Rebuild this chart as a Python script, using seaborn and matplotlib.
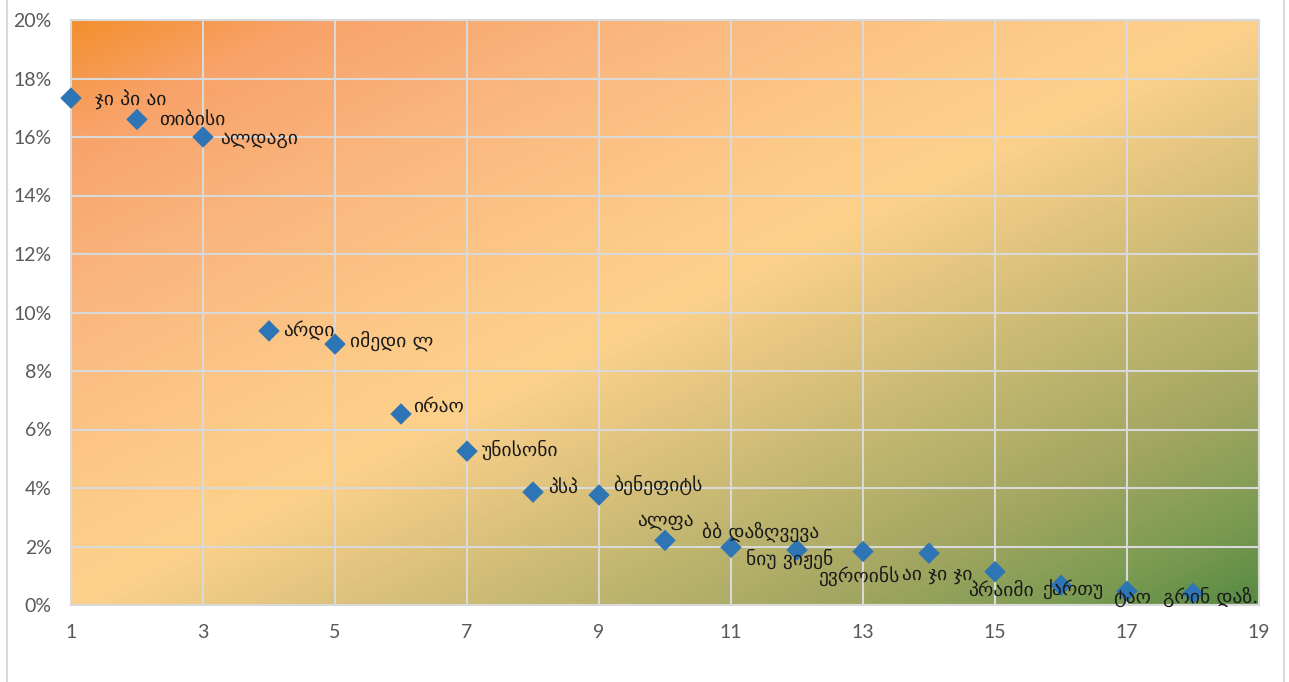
import matplotlib.pyplot as plt
import seaborn as sns
import numpy as np
import pandas as pd
from matplotlib.colors import LinearSegmentedColormap
from matplotlib.lines import Line2D
from matplotlib.ticker import PercentFormatter

# data
rank = list(range(1, 19))
share = [17.33, 16.60, 16.00, 9.37, 8.92, 6.53, 5.26, 3.86, 3.76,
         2.21, 1.97, 1.88, 1.83, 1.77, 1.14, 0.67, 0.47, 0.40]
names = ["ჯი პი აი", "თიბისი", "ალდაგი", "არდი", "იმედი ლ", "ირაო",
         "უნისონი", "პსპ", "ბენეფიტს", "ალფა", "ბბ დაზღვევა", "ნიუ ვიჟენ",
         "ევროინს", "აი ჯი ჯი", "პრაიმი", "ქართუ", "ტაო", "გრინ დაზ."]

# label placement in pixels (dx, dy, horizontal alignment), as placed in the original
label_offsets = [(24, -2, 'left'), (22, -1, 'left'), (17, -2, 'left'), (14, 1, 'left'),
                 (15, 3, 'left'), (12, 8, 'left'), (15, 1, 'left'), (15, 5, 'left'),
                 (14, 10, 'left'), (29, 20, 'right'), (-29, 16, 'left'), (-51, -9, 'left'),
                 (36, -24, 'right'), (-27, -21, 'left'), (39, -19, 'right'),
                 (-19, -5, 'left'), (-14, -6, 'left'), (-30, -4, 'left')]

df = pd.DataFrame({"rank": rank, "share": share})

sns.set_style("white")
plt.rcParams['font.family'] = ['Lato', 'DejaVu Sans']

fig = plt.figure(figsize=(12.89, 6.82), dpi=100)
fig.set_facecolor('white')
ax = fig.add_axes([71 / 1289, 1 - 605 / 682, (1259 - 71) / 1289, (605 - 20) / 682])

# diagonal gradient background: orange top-left, light in the middle, green bottom-right
cmap = LinearSegmentedColormap.from_list(
    "bg", [(0.0, "#F38F2E"), (0.1, "#F8A36A"), (0.25, "#FAB77F"),
           (0.42, "#FDCB88"), (0.5, "#FDD18B"), (0.72, "#BDB46E"),
           (0.82, "#A2A661"), (0.92, "#7C9B52"), (1.0, "#578A42")])
u = np.linspace(0, 1, 400)
v = np.linspace(0, 1, 300)
U, V = np.meshgrid(u, v)
grad = (U + V) / 2  # V runs from top (0) to bottom (1)
ax.imshow(grad, cmap=cmap, extent=[0, 1, 0, 1], origin='upper',
          transform=ax.transAxes, aspect='auto', zorder=0, vmin=0, vmax=1)

sns.scatterplot(data=df, x="rank", y="share", marker="D", s=120,
                color="#2E75B6", edgecolor="none", ax=ax, zorder=3, clip_on=False)

for xi, yi, name, (dx, dy, ha) in zip(rank, share, names, label_offsets):
    ax.annotate(name, (xi, yi), xytext=(dx, dy), textcoords='offset pixels',
                ha=ha, va='center', fontsize=14, color='#1a1a1a',
                family=['DejaVu Sans'], zorder=4)

ax.set_xlim(1, 19)
ax.set_ylim(0, 20)
ax.set_xticks(range(1, 20, 2))
ax.set_yticks(range(0, 21, 2))
ax.yaxis.set_major_formatter(PercentFormatter(decimals=0))
ax.grid(True, color='#D9D9D9', linewidth=1.5)
ax.set_axisbelow(False)
for line in ax.get_xgridlines() + ax.get_ygridlines():
    line.set_zorder(1)
for sp in ax.spines.values():
    sp.set_color('#D9D9D9')
    sp.set_linewidth(1.5)
ax.tick_params(length=0, labelsize=14, labelcolor='#595959', pad=14)
ax.set_xlabel("")
ax.set_ylabel("")

# outer chart border
fig.add_artist(Line2D([7 / 1289, 7 / 1289], [0, 1], color='#D9D9D9', linewidth=1.5))
fig.add_artist(Line2D([1284 / 1289, 1284 / 1289], [0, 1], color='#D9D9D9', linewidth=1.5))

plt.savefig('out.png', dpi=100)
